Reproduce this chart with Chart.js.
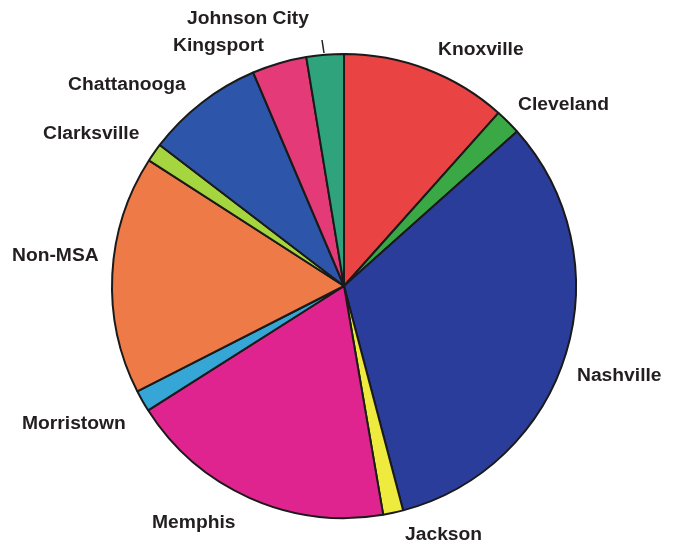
<!DOCTYPE html>
<html lang="en">
<head>
    <meta charset="UTF-8">
    <title>MSA Pie Chart</title>
    <script src="https://cdn.jsdelivr.net/npm/chart.js"></script>
    <style>
        html, body { margin: 0; padding: 0; background: #fff; }
        #wrap { width: 674px; height: 541px; position: relative; }
    </style>
</head>
<body>
    <div id="wrap"><canvas id="pieChart" width="674" height="541"></canvas></div>

    <script>
        // share of total (clockwise from 12 o'clock)
        const regions = ['Knoxville', 'Cleveland', 'Nashville', 'Jackson', 'Memphis', 'Morristown',
                         'Non-MSA', 'Clarksville', 'Chattanooga', 'Kingsport', 'Johnson City'];
        const shares = [11.6, 1.8, 32.5, 1.4, 18.7, 1.5, 16.6, 1.3, 8.2, 3.8, 2.6];
        const sliceColors = ['#ea4343', '#3aa845', '#2b3d9b', '#eeea3e', '#e0248f', '#35a6d6',
                             '#ee7b47', '#a6d63f', '#2d56aa', '#e53a78', '#2ea37c'];

        // where each label sits (left x, baseline y)
        const labelSpots = {
            'Knoxville': [438, 55],
            'Cleveland': [518, 110],
            'Nashville': [577, 381],
            'Jackson': [405, 540],
            'Memphis': [152, 528],
            'Morristown': [22, 429],
            'Non-MSA': [12, 261],
            'Clarksville': [43, 139],
            'Chattanooga': [68, 90],
            'Kingsport': [173, 51],
            'Johnson City': [187, 24]
        };

        const labelPlugin = {
            id: 'outsideLabels',
            afterDraw(chart) {
                const ctx = chart.ctx;
                ctx.save();
                ctx.fillStyle = '#231f20';
                ctx.font = 'bold 18px "Liberation Sans", Arial, sans-serif';
                ctx.textBaseline = 'alphabetic';
                regions.forEach(name => {
                    const p = labelSpots[name];
                    ctx.save();
                    ctx.translate(p[0], p[1]);
                    ctx.scale(1.07, 1);
                    ctx.fillText(name, 0, 0);
                    ctx.restore();
                });
                // leader line for Johnson City
                ctx.strokeStyle = '#231f20';
                ctx.lineWidth = 1.5;
                ctx.beginPath();
                ctx.moveTo(322, 40);
                ctx.lineTo(324, 53);
                ctx.stroke();
                ctx.restore();
            }
        };

        new Chart(document.getElementById('pieChart'), {
            type: 'pie',
            data: {
                labels: regions,
                datasets: [{
                    data: shares,
                    backgroundColor: sliceColors,
                    borderColor: '#1a1a1a',
                    borderWidth: 2,
                    hoverOffset: 0
                }]
            },
            options: {
                responsive: false,
                animation: false,
                layout: { padding: { left: 100, right: 86, top: 53, bottom: 22 } },
                plugins: {
                    legend: { display: false },
                    tooltip: { enabled: false }
                }
            },
            plugins: [labelPlugin]
        });
    </script>
</body>
</html>
